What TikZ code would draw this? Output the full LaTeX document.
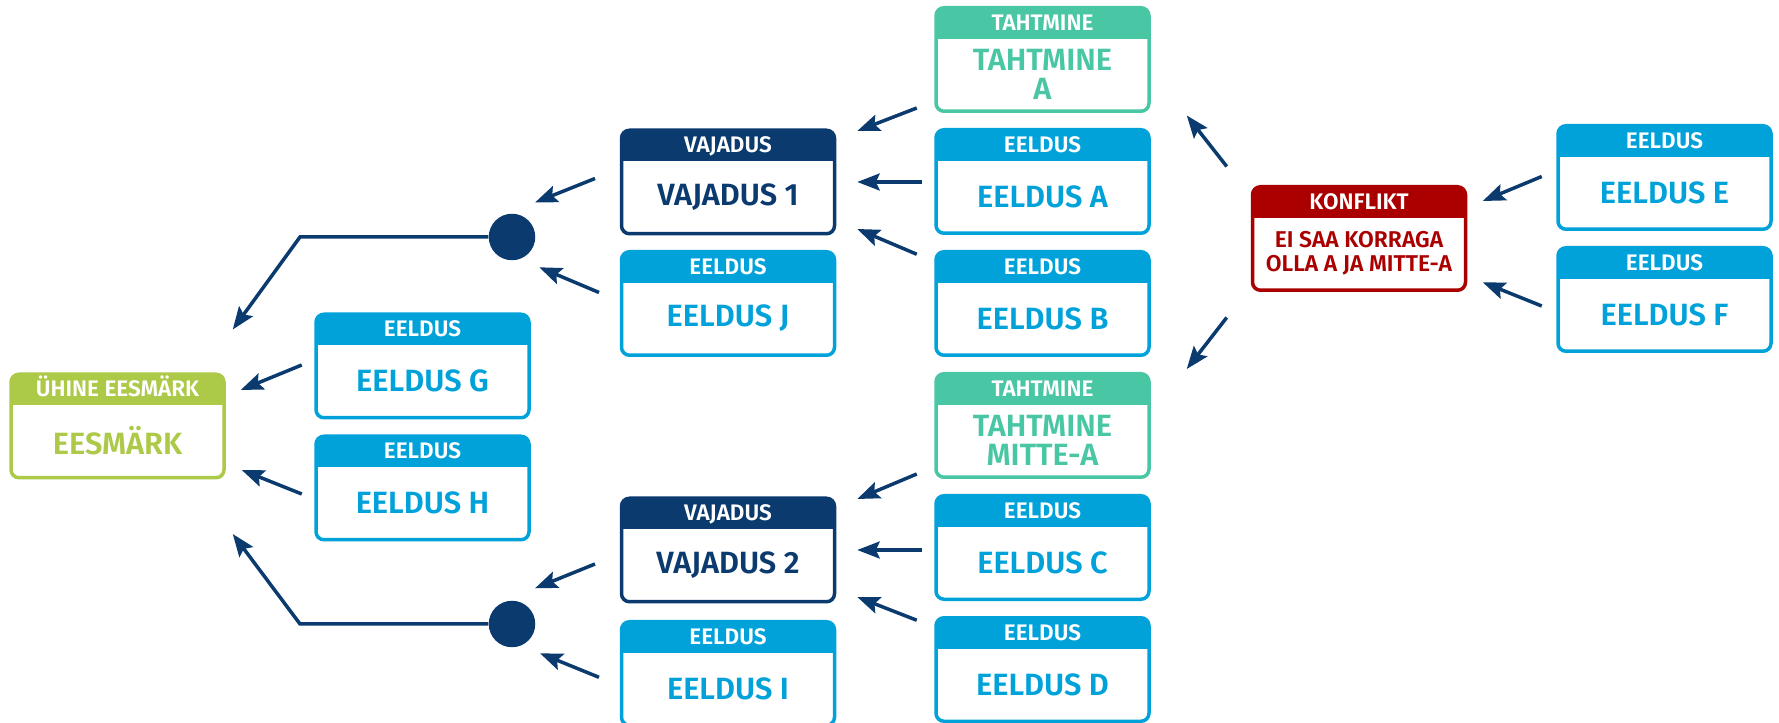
\documentclass[tikz,border=0pt]{standalone}
\usepackage{fontspec}
\setmainfont{Fira Sans}[BoldFont={* SemiBold}]
\usetikzlibrary{arrows.meta,positioning}
\definecolor{eeldus}{RGB}{0,162,217}
\definecolor{vajadus}{RGB}{11,59,110}
\definecolor{tahtmine}{RGB}{73,199,164}
\definecolor{eesmark}{RGB}{173,201,72}
\definecolor{konflikt}{RGB}{170,0,0}

\begin{document}
\begin{tikzpicture}[
    node distance=0.3cm,
    every node/.style={font=\bfseries},
    card/.style n args={3}{rectangle, draw=#1, fill=white, line width=0.07cm, rounded corners=0.16cm,
        minimum width=4.26cm, minimum height=2.07cm, inner sep=0pt,
        path picture={\fill[#1, sharp corners] (path picture bounding box.north west) rectangle ([yshift=-0.62cm]path picture bounding box.north east);},
        label={[headtext, anchor=base, yshift=-0.49cm]north:#2},
        label={[bodytext, text=#1]center:#3}},
    headtext/.style={text=white, font=\fontsize{12.8}{14}\selectfont\bfseries, inner sep=0pt},
    bodytext/.style={font=\fontsize{17.5}{16.5}\selectfont\bfseries, align=center, inner sep=0pt, anchor=center, yshift=-0.3cm},
    smallbody/.style={bodytext, text=konflikt, font=\fontsize{13}{13.6}\selectfont\bfseries},
    arrow/.style={draw=vajadus, line width=0.07cm, -{Stealth[length=0.45cm, width=0.34cm, inset=0.08cm]}},
    dot/.style={circle, fill=vajadus, minimum size=0.93cm, inner sep=0pt},
]
\useasboundingbox (0,0) rectangle (35.58,14.46);

% Goal
\node[card={eesmark}{ÜHINE EESMÄRK}{EESMÄRK}] (goal) at (2.35,5.94) {};
\node[card={eeldus}{EELDUS}{EELDUS G}] (eg) at (8.45,7.14) {};
\node[card={eeldus}{EELDUS}{EELDUS H}, below=of eg] (eh) {};

% Joints
\node[dot] (c1) at (10.24,9.72) {};
\node[dot] (c2) at (10.24,1.98) {};
\coordinate (bendup) at (6.0,9.72);
\coordinate (benddown) at (6.0,1.98);

% Needs
\node[card={vajadus}{VAJADUS}{VAJADUS 1}] (v1) at (14.56,10.82) {};
\node[card={eeldus}{EELDUS}{EELDUS J}, below=0.29cm of v1] (ej) {};
\node[card={vajadus}{VAJADUS}{VAJADUS 2}] (v2) at (14.56,3.46) {};
\node[card={eeldus}{EELDUS}{EELDUS I}, below=0.33cm of v2] (ei) {};

% Wants and assumptions
\node[card={tahtmine}{TAHTMINE}{TAHTMINE\\A}] (ta) at (20.85,13.27) {};
\node[card={eeldus}{EELDUS}{EELDUS A}, below=of ta] (ea) {};
\node[card={eeldus}{EELDUS}{EELDUS B}, below=of ea] (eb) {};
\node[card={tahtmine}{TAHTMINE}{TAHTMINE\\MITTE-A}, below=of eb] (tm) {};
\node[card={eeldus}{EELDUS}{EELDUS C}, below=of tm] (ec) {};
\node[card={eeldus}{EELDUS}{EELDUS D}, below=of ec] (ed) {};

% Conflict
\node[card={konflikt}{KONFLIKT}{}, label={[smallbody]center:EI SAA KORRAGA\\OLLA A JA MITTE-A}] (k) at (27.18,9.69) {};
\node[card={eeldus}{EELDUS}{EELDUS E}] (ee) at (33.29,10.91) {};
\node[card={eeldus}{EELDUS}{EELDUS F}, below=of ee] (ef) {};

% Arrows into the needs
\draw[arrow] ([shift={(-0.35,0.10)}]ta.south west) -- ([shift={(0.42,-0.05)}]v1.north east);
\draw[arrow] ([xshift=-0.25cm]v1.east -| ea.west) -- ([xshift=0.42cm]v1.east);
\draw[arrow] ([shift={(-0.35,-0.085)}]eb.north west) -- ([shift={(0.42,0.13)}]v1.south east);
\draw[arrow] ([shift={(-0.35,0.10)}]tm.south west) -- ([shift={(0.42,-0.05)}]v2.north east);
\draw[arrow] ([xshift=-0.25cm]v2.east -| ec.west) -- ([xshift=0.42cm]v2.east);
\draw[arrow] ([shift={(-0.35,-0.085)}]ed.north west) -- ([shift={(0.42,0.13)}]v2.south east);

% Arrows into the joints
\draw[arrow] ([shift={(-0.495,0.07)}]v1.west) -- ([shift={(0.46,0.69)}]c1.center);
\draw[arrow] ([shift={(-0.415,0.22)}]ej.west) -- ([shift={(0.546,-0.606)}]c1.center);
\draw[arrow] ([shift={(-0.495,-0.28)}]v2.west) -- ([shift={(0.46,0.714)}]c2.center);
\draw[arrow] ([shift={(-0.415,-0.076)}]ei.west) -- ([shift={(0.56,-0.586)}]c2.center);

% Arrows into the goal
\draw[arrow] (c1) -- (bendup) -- ([shift={(0.14,0.86)}]goal.north east);
\draw[arrow] (c2) -- (benddown) -- ([shift={(0.14,-1.09)}]goal.south east);
\draw[arrow] ([shift={(-0.25,0.02)}]eg.west) -- ([shift={(0.30,0.72)}]goal.east);
\draw[arrow] ([shift={(-0.25,-0.12)}]eh.west) -- ([shift={(0.32,-0.88)}]goal.east);

% Conflict arrows
\draw[arrow] ([shift={(-0.48,0.37)}]k.north west) -- ([shift={(0.72,-0.05)}]ta.south east);
\draw[arrow] ([shift={(-0.48,-0.51)}]k.south west) -- ([shift={(0.72,0.06)}]tm.north east);
\draw[arrow] ([shift={(-0.29,0.02)}]ee.west) -- ([shift={(0.31,0.75)}]k.east);
\draw[arrow] ([shift={(-0.29,-0.13)}]ef.west) -- ([shift={(0.31,-0.876)}]k.east);

\end{tikzpicture}
\end{document}
